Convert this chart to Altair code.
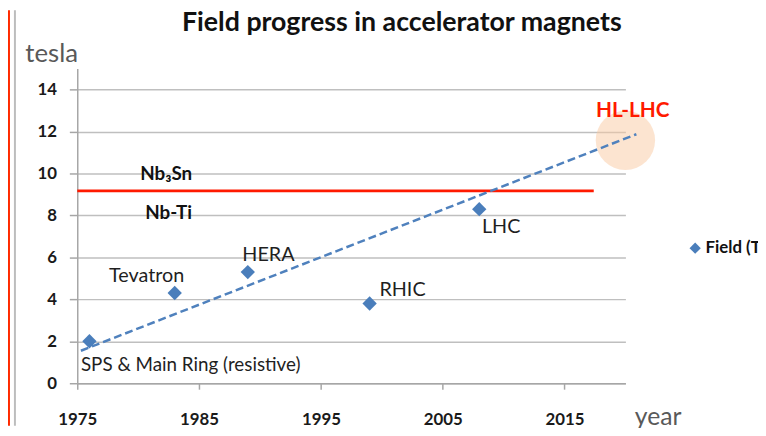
import altair as alt
import pandas as pd

# ---- data ----
machines = ["SPS & Main Ring", "Tevatron", "HERA", "RHIC", "LHC"]
years = [1976, 1983, 1989, 1999, 2008]
field_tesla = [2.0, 4.3, 5.3, 3.8, 8.3]
series_name = "Field (T)"

label_texts = ["Tevatron", "HERA", "RHIC", "LHC"]
label_years = [1980.7, 1990.7, 2001.7, 2009.8]
label_fields = [5.1, 6.1, 4.45, 7.45]

sps_text = ["SPS & Main Ring (resistive)"]
sps_year = [1975.3]
sps_field = [0.85]

conductor_texts = ["Nb\u2083Sn", "Nb-Ti"]
conductor_years = [1982.3, 1982.5]
conductor_fields = [9.95, 8.1]

limit_years = [1975.0, 2017.4]
limit_fields = [9.17, 9.17]

trend_years = [1975.3, 2020.9]
trend_fields = [1.55, 11.87]

target_text = ["HL-LHC"]
target_year = [2020.0]
target_field = [11.58]
target_label_year = [2020.6]
target_label_field = [12.98]

x_ticks = [1975, 1985, 1995, 2005, 2015]
y_ticks = [0, 2, 4, 6, 8, 10, 12, 14]
x_domain = [1975, 2020]
y_domain = [0, 15]

# ---- tables ----
points_df = pd.DataFrame({"machine": machines, "year": years, "field": field_tesla,
                          "series": [series_name] * len(years)})
labels_df = pd.DataFrame({"text": label_texts, "year": label_years, "field": label_fields})
sps_df = pd.DataFrame({"text": sps_text, "year": sps_year, "field": sps_field})
cond_df = pd.DataFrame({"text": conductor_texts, "year": conductor_years, "field": conductor_fields})
limit_df = pd.DataFrame({"year": limit_years, "field": limit_fields})
trend_df = pd.DataFrame({"year": trend_years, "field": trend_fields})
target_df = pd.DataFrame({"text": target_text, "year": target_year, "field": target_field})
target_lbl_df = pd.DataFrame({"text": target_text, "year": target_label_year, "field": target_label_field})

FONT = "Lato"
xs = alt.Scale(domain=x_domain, nice=False, zero=False)
ys = alt.Scale(domain=y_domain, nice=False, zero=True)

x_axis = alt.Axis(values=x_ticks, format="d", title="year", grid=False,
                  labelFont=FONT, labelFontSize=17, labelFontWeight="bold", labelColor="#1A1A1A",
                  labelBaseline="middle", labelPadding=31, labelFlush=False, labelOverlap=False,
                  tickSize=6, tickColor="#A6A6A6", tickWidth=1.5,
                  domainColor="#A6A6A6", domainWidth=1.5,
                  titleFont=FONT, titleFontSize=25, titleFontWeight="normal", titleColor="#595959",
                  titleX=563, titleY=42, titleAlign="left", titleBaseline="alphabetic")
y_axis = alt.Axis(values=y_ticks, title="tesla", grid=True, gridColor="#BFBFBF", gridWidth=1.5,
                  labelFont=FONT, labelFontSize=17, labelFontWeight="bold", labelColor="#1A1A1A",
                  labelPadding=13, tickSize=8, tickColor="#A6A6A6", tickWidth=1.5,
                  domainColor="#A6A6A6", domainWidth=1.5,
                  titleFont=FONT, titleFontSize=26, titleFontWeight="normal", titleColor="#595959",
                  titleAngle=0, titleX=-53, titleY=-7, titleAlign="left", titleBaseline="alphabetic")

def X():
    return alt.X("year:Q", scale=xs, axis=x_axis)

def Y():
    return alt.Y("field:Q", scale=ys, axis=y_axis)

target = alt.Chart(target_df).mark_circle(color="#F9C9A2", opacity=0.5, size=3600).encode(x=X(), y=Y())

limit = alt.Chart(limit_df).mark_line(color="#FF1A00", strokeWidth=3).encode(x=X(), y=Y())

trend = alt.Chart(trend_df).mark_line(color="#4F81BD", strokeWidth=2.5, strokeDash=[8, 4]).encode(x=X(), y=Y())

points = alt.Chart(points_df).mark_point(shape="diamond", filled=True, size=210, opacity=1).encode(
    x=X(), y=Y(),
    color=alt.Color("series:N", scale=alt.Scale(range=["#4A7EBB"]),
                    legend=alt.Legend(orient="none", legendX=616, legendY=173, title=None,
                                      symbolType="diamond", symbolSize=130, symbolStrokeWidth=0,
                                      labelFont=FONT, labelFontSize=17, labelFontWeight="bold",
                                      labelColor="#111111", labelOffset=2, padding=0)),
)

labels = alt.Chart(labels_df).mark_text(font=FONT, fontSize=20, color="#1F1F1F",
                                        align="center", baseline="middle").encode(x=X(), y=Y(), text="text:N")
sps = alt.Chart(sps_df).mark_text(font=FONT, fontSize=19, color="#1F1F1F",
                                  align="left", baseline="middle").encode(x=X(), y=Y(), text="text:N")
cond = alt.Chart(cond_df).mark_text(font=FONT, fontSize=19, fontWeight="bold", color="#111111",
                                    align="center", baseline="middle").encode(x=X(), y=Y(), text="text:N")
target_lbl = alt.Chart(target_lbl_df).mark_text(font=FONT, fontSize=21, fontWeight="bold", color="#FF1A00",
                                                align="center", baseline="middle").encode(x=X(), y=Y(), text="text:N")

edge_df = pd.DataFrame({"k": [0]})
red_edge = alt.Chart(edge_df).mark_rule(color="#FF2A00", strokeWidth=2).encode(
    x=alt.value(-69), y=alt.value(-59), y2=alt.value(361))
gray_edge = alt.Chart(edge_df).mark_rule(color="#BDBDBD", strokeWidth=2).encode(
    x=alt.value(-63), y=alt.value(-59), y2=alt.value(361))

chart = alt.layer(
    red_edge, gray_edge, target, limit, trend, points, labels, sps, cond, target_lbl
).properties(
    width=554, height=318,
    title=alt.TitleParams(text="Field progress in accelerator magnets", font=FONT, fontSize=27,
                          fontWeight="bold", color="#111111", anchor="middle", frame="group",
                          dx=51, offset=-49, baseline="alphabetic"),
    autosize=alt.AutoSizeParams(type="none"),
    padding={"left": 70, "top": 59, "right": 134, "bottom": 43},
).configure_view(strokeWidth=0)

chart.save("out.html", embed_options={"renderer": "svg", "actions": False})
